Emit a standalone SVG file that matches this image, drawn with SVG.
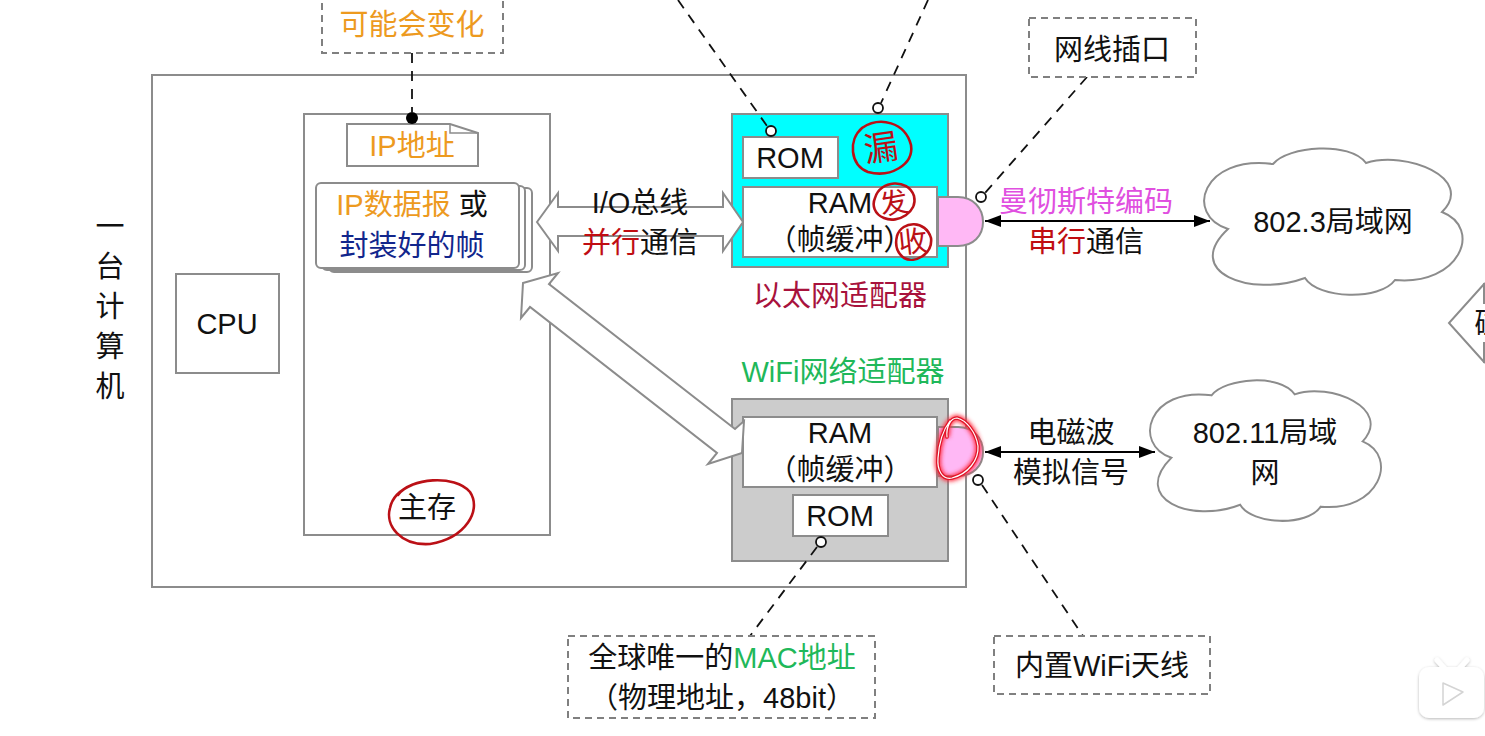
<svg xmlns="http://www.w3.org/2000/svg" width="1485" height="736" viewBox="0 0 1485 736">
<style>
text{font-family:"Liberation Sans","Noto Sans CJK SC",sans-serif;font-size:29px;fill:#111;text-anchor:middle}
.b{fill:#fff;stroke:#8c8c8c;stroke-width:2}
.d{fill:#fff;stroke:#808080;stroke-width:2;stroke-dasharray:7 5}
.l{fill:none;stroke:#111;stroke-width:1.8;stroke-dasharray:10 8}
.o{fill:#fff;stroke:#111;stroke-width:1.8}
.or{fill:#ed9a1f}.re{fill:#c00d12}.gr{fill:#1fb85a}.mg{fill:#e04fe0}.nv{fill:#12268c}.dr{fill:#a8123c}
.hw{fill:none;stroke:#bb1016;stroke-width:2.6;stroke-linecap:round}
.hwt{fill:#bb1016}
</style>
<defs>
<marker id="ah" viewBox="0 0 16 12" refX="16" refY="6" markerWidth="16" markerHeight="12" markerUnits="userSpaceOnUse" orient="auto-start-reverse"><path d="M0,0L16,6L0,12Z" fill="#000"/></marker>
<filter id="glow" x="-40%" y="-40%" width="180%" height="180%"><feGaussianBlur stdDeviation="2"/></filter>
<filter id="sh" x="-20%" y="-20%" width="140%" height="140%"><feDropShadow dx="0" dy="1" stdDeviation="1.5" flood-color="#000" flood-opacity=".28"/></filter>
<path id="cloud" d="M1273,164C1288,146 1350,141 1366,163C1405,150 1476,178 1442,212C1483,228 1460,286 1395,280C1380,301 1318,299 1305,278C1250,298 1182,272 1228,229C1184,215 1202,155 1273,164Z"/>
</defs>

<g id="computer"><rect class="b" x="152" y="75" width="814" height="512"/></g>
<g id="side-label">
<text x="110" y="237">一</text><text x="110" y="277">台</text><text x="110" y="317">计</text><text x="110" y="357">算</text><text x="110" y="397">机</text>
</g>
<g id="cpu"><rect class="b" x="176" y="274" width="103" height="99"/><text x="227" y="334">CPU</text></g>

<g id="memory">
<rect class="b" x="304" y="114" width="246" height="421"/>
<text x="427" y="518">主存</text>
<path class="hw" d="M398,495C410,478 455,474 470,492C482,510 466,538 430,544C400,546 385,525 390,508C392,498 400,490 412,485"/>
</g>
<g id="ip-address">
<path class="b" d="M347,124H450L478,133V166H347Z"/><path d="M450,124V133H478" style="fill:none;stroke:#8c8c8c;stroke-width:1.5"/>
<text class="or" x="412" y="156">IP地址</text>
</g>
<g id="frames">
<rect class="b" x="329" y="188" width="203" height="84" rx="5"/>
<rect class="b" x="322" y="186" width="203" height="84" rx="5"/>
<rect class="b" x="316" y="183" width="203" height="85" rx="5"/>
<text x="412" y="215"><tspan class="or">IP数据报</tspan> 或</text>
<text class="nv" x="412" y="256">封装好的帧</text>
</g>

<g id="ethernet-adapter">
<rect x="732" y="114" width="216" height="153" fill="#00ffff" stroke="#8c8c8c" stroke-width="2"/>
<rect class="b" x="743" y="137" width="95" height="41"/>
<text x="790" y="168">ROM</text>
<path d="M938,197H958C973,197 983,208 983,222C983,236 973,246 958,246H938Z" fill="#ffb8f5" stroke="#8c8c8c" stroke-width="2"/>
<rect class="b" x="743" y="187" width="194" height="70"/>
<text x="840" y="213">RAM</text>
<text x="840" y="250">（帧缓冲）</text>
<text class="dr" x="840" y="306">以太网适配器</text>
<path class="hw" d="M862,128C880,116 905,122 911,145C914,165 890,178 868,172C850,165 848,140 862,128"/>
<text class="hwt" x="881" y="160" style="font-size:34px" transform="rotate(-8 881 148)">漏</text>
<path class="hw" d="M875,198C880,180 908,178 914,196C918,212 898,224 884,218C874,214 872,205 875,198"/>
<text class="hwt" x="894" y="213" style="font-size:28px" transform="rotate(-10 894 203)">发</text>
<path class="hw" d="M897,236C902,220 926,220 931,238C933,254 915,264 904,258C896,252 895,244 897,236"/>
<text class="hwt" x="913" y="252" style="font-size:29px" transform="rotate(-6 913 242)">收</text>
</g>

<g id="wifi-label"><text class="gr" x="843" y="382">WiFi网络适配器</text></g>
<g id="wifi-adapter">
<rect x="732" y="399" width="216" height="162" fill="#cccccc" stroke="#8c8c8c" stroke-width="2"/>
<path d="M938,427H958C973,427 983,438 983,452C983,466 973,476 958,476H938Z" fill="#ffb8f5" stroke="#8c8c8c" stroke-width="2"/>
<rect class="b" x="743" y="417" width="194" height="70"/>
<text x="840" y="443">RAM</text>
<text x="840" y="480">（帧缓冲）</text>
<rect class="b" x="793" y="495" width="95" height="41"/>
<text x="840" y="526">ROM</text>
<path id="scribble-glow" d="M947,437C946,428 950,418 957,418C966,420 976,432 978,446C979,460 968,474 952,478C942,480 937,470 938,458C939,442 943,430 950,421" fill="none" stroke="#ff2a3c" stroke-width="6" filter="url(#glow)"/>
<path d="M947,437C946,428 950,418 957,418C966,420 976,432 978,446C979,460 968,474 952,478C942,480 937,470 938,458C939,442 943,430 950,421" fill="none" stroke="#e01428" stroke-width="3.6" stroke-linecap="round"/>
<path d="M947,437C946,428 950,418 957,418C966,420 976,432 978,446C979,460 968,474 952,478C942,480 937,470 938,458C939,442 943,430 950,421" fill="none" stroke="#fff" stroke-width="1.2" stroke-linecap="round"/>
</g>

<g id="connectors">
<path class="b" d="M537,222L558,193V207H723V193L743,222L723,251V236H558V251Z"/>
<path class="b" d="M523,283L558,273L549,284L735,429L744,421L742,453L708,464L717,453L530,307L521,318Z"/>
<text x="640" y="213">I/O总线</text>
<text x="640" y="253"><tspan class="re">并行</tspan>通信</text>
<line x1="985" y1="221" x2="1210" y2="221" stroke="#000" stroke-width="2" marker-start="url(#ah)" marker-end="url(#ah)"/>
<line x1="985" y1="452" x2="1155" y2="452" stroke="#000" stroke-width="2" marker-start="url(#ah)" marker-end="url(#ah)"/>
<path class="l" d="M678,0L767,126"/>
<path class="l" d="M928,0L881,103"/>
<path class="l" d="M1087,77L985,193"/>
<path class="l" d="M412,53V112"/>
<path class="l" d="M817,547L750,636"/>
<path class="l" d="M982,485L1083,636"/>
<circle class="o" cx="771" cy="131" r="5"/>
<circle class="o" cx="878" cy="108" r="5"/>
<circle class="o" cx="981" cy="197" r="5"/>
<circle class="o" cx="821" cy="542" r="5"/>
<circle class="o" cx="978" cy="480" r="5"/>
<circle cx="412" cy="118" r="6" fill="#000"/>
</g>

<g id="note-change"><rect class="d" x="322" y="-10" width="181" height="63"/><text class="or" x="412" y="35">可能会变化</text></g>
<g id="note-port"><rect class="d" x="1029" y="18" width="167" height="59"/><text x="1112" y="60">网线插口</text></g>
<g id="note-mac"><rect class="d" x="568" y="636" width="307" height="82"/>
<text x="722" y="668">全球唯一的<tspan class="gr">MAC地址</tspan></text>
<text x="722" y="708">（物理地址，48bit）</text></g>
<g id="note-antenna"><rect class="d" x="994" y="636" width="216" height="58"/><text x="1102" y="676">内置WiFi天线</text></g>

<g id="encoding-labels">
<text class="mg" x="1086" y="212">曼彻斯特编码</text>
<text x="1086" y="252"><tspan class="re">串行</tspan>通信</text>
<text x="1071" y="443">电磁波</text>
<text x="1071" y="483">模拟信号</text>
</g>

<g id="lan-8023">
<use href="#cloud" fill="#fff" stroke="#8c8c8c" stroke-width="2"/>
<text x="1333" y="232">802.3局域网</text>
</g>
<g id="lan-80211">
<use href="#cloud" transform="translate(1149 379) scale(.894 .96) translate(-1203 -147)" fill="#fff" stroke="#8c8c8c" stroke-width="2.1"/>
<text x="1265" y="443">802.11局域</text>
<text x="1265" y="483">网</text>
</g>

<g id="cut-off-decision">
<path d="M1485,283L1449,323L1485,363" fill="#fff" stroke="#8c8c8c" stroke-width="2"/>
<line x1="1484" y1="283" x2="1484" y2="304" stroke="#8c8c8c" stroke-width="2"/>
<line x1="1484" y1="342" x2="1484" y2="363" stroke="#8c8c8c" stroke-width="2"/>
<text x="1489" y="334">碰</text>
</g>

<g id="player-badge" filter="url(#sh)" fill="#fff">
<path d="M1437,660L1445,669" stroke="#fff" stroke-width="5" stroke-linecap="round"/>
<path d="M1467,660L1459,669" stroke="#fff" stroke-width="5" stroke-linecap="round"/>
<rect x="1419" y="667" width="65" height="51" rx="10"/>
<path d="M1443,683L1463,692L1443,705Z" stroke="#d4d4d4" stroke-width="1.5" stroke-linejoin="round"/>
</g>
</svg>
